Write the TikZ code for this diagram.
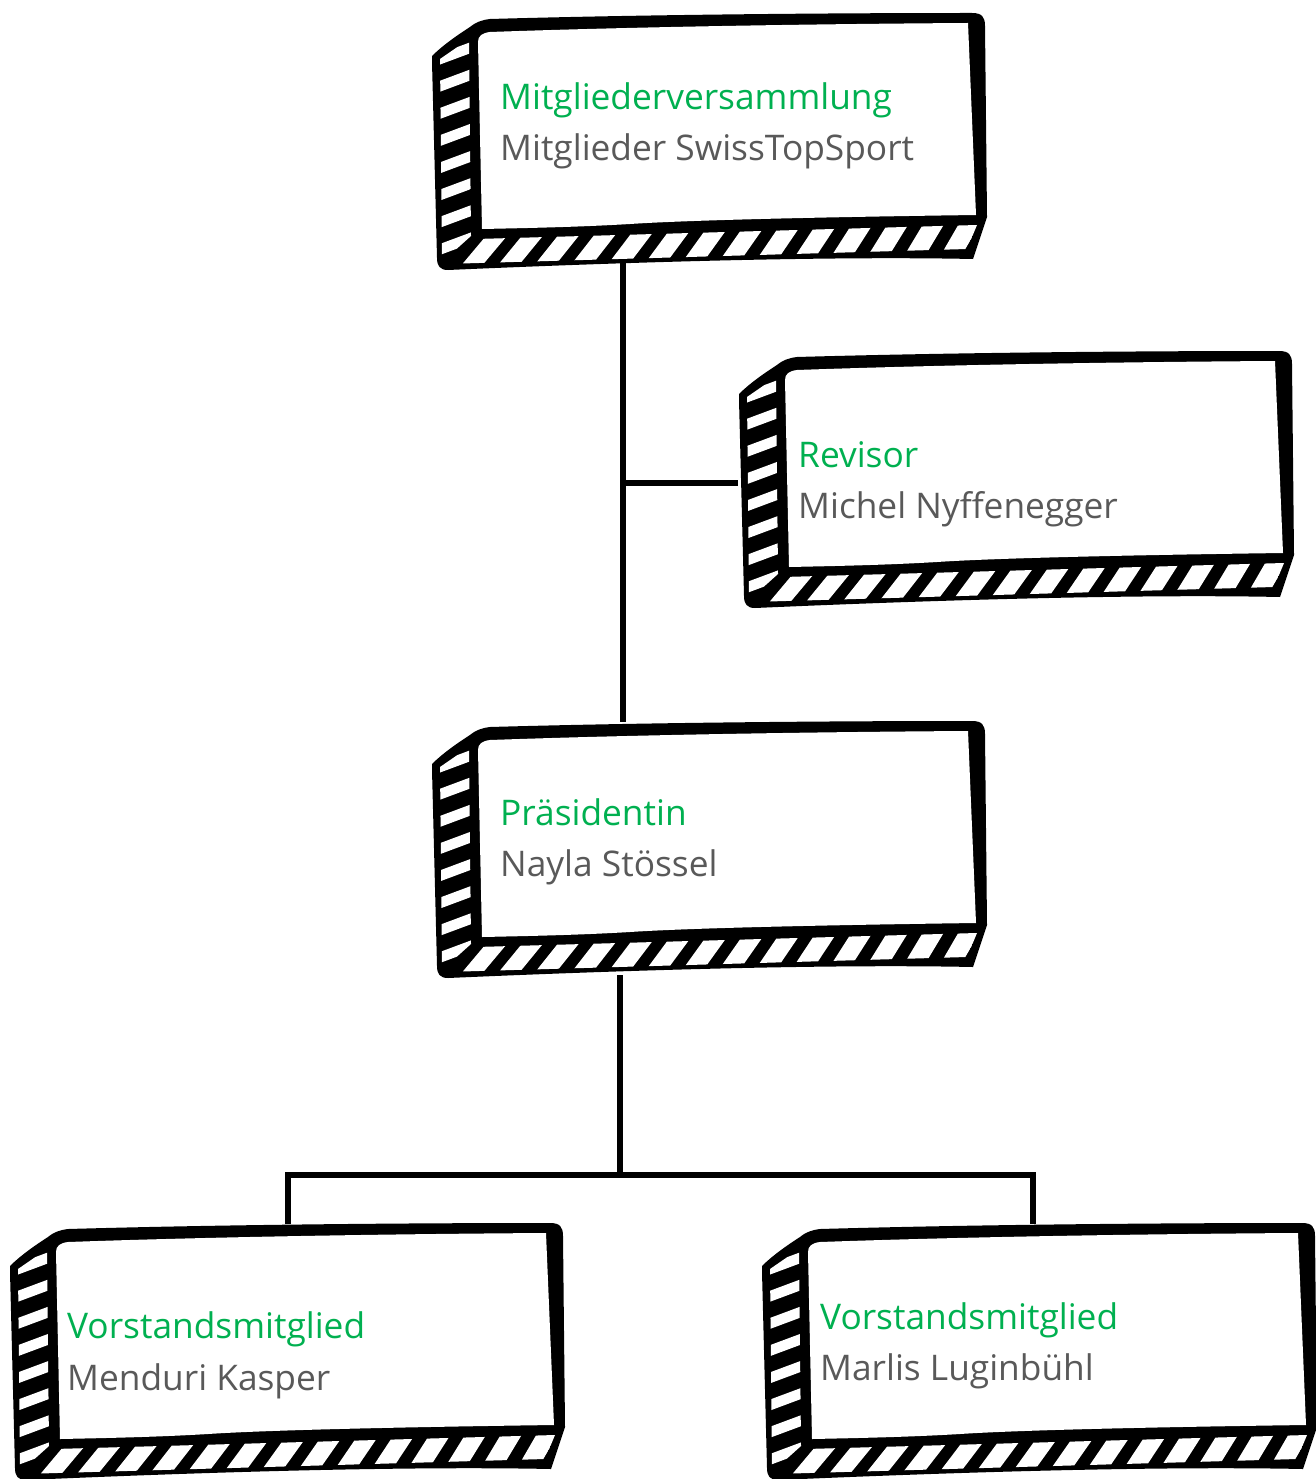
\documentclass[tikz,border=0pt]{standalone}
\usepackage{fontspec}
\setmainfont{Open Sans}
\definecolor{tgreen}{RGB}{0,176,80}
\definecolor{tgray}{RGB}{89,89,89}
\newcommand\sketchbox[2]{%
\begin{scope}[shift={(#1,#2)}]
 \fill[black] (2,44) .. controls (12,34) and (26,24) .. (40,15)
  .. controls (46,10) and (52,8) .. (60,7)
  .. controls (200,3) and (380,1) .. (542,1)
  .. controls (552,1) and (555,5) .. (555,14)
  -- (557,205) -- (543,247)
  .. controls (400,244) and (200,250) .. (18,258)
  .. controls (10,258) and (7,254) .. (7,246)
  -- (2,50) -- cycle;
 \fill[white] (48,30) .. controls (48,24) and (52,21) .. (60,20)
  .. controls (200,15) and (380,12) .. (538,11)
  -- (546,203)
  .. controls (400,205) and (260,208) .. (200,212)
  .. controls (150,215) and (100,216) .. (52,217)
  -- cycle;
 \begin{scope}
  \clip (10,47) -- (39,27) -- (41,224) -- (12,250) -- cycle;
  \foreach \i in {0,...,7}{
   \pgfmathsetmacro\c{42+\i*27.2}
   \fill[white] (5,{\c+1.4}) -- (45,{\c-13.5}) -- (45,{\c-2.5}) -- (5,{\c+12.4}) -- cycle;}
 \end{scope}
 \begin{scope}
  \clip (14,252) -- (46,227) -- (547,213) -- (537,237) -- cycle;
  \foreach \i in {0,...,14}{
   \pgfmathsetmacro\sl{42-\i*1}
   \pgfmathsetmacro\xx{24+\i*36.6}
   \fill[white] (\xx,262) -- ({\xx+21},262) -- ({\xx+21+\sl},212) -- ({\xx+\sl},212) -- cycle;}
 \end{scope}
\end{scope}}
\tikzset{
 role/.style={anchor=base west, text=tgreen, font=\fontsize{35.3}{42}\selectfont, inner sep=0pt},
 person/.style={anchor=base west, text=tgray, font=\fontsize{35.3}{42}\selectfont, inner sep=0pt},
 link/.style={line width=6pt, black}
}
\begin{document}
\begin{tikzpicture}[x=1pt,y=-1pt]
\useasboundingbox (0,0) rectangle (1315,1479);
\fill[white] (0,0) rectangle (1315,1479);
% boxes
\sketchbox{430}{12}
\sketchbox{737}{350}
\sketchbox{430}{720}
\sketchbox{8}{1222}
\sketchbox{760}{1222}
% texts
\node[role] (mvT) at (500,110) {Mitgliederversammlung};
\node[person] (mvP) at (500,161) {Mitglieder SwissTopSport};
\node[role] (rvT) at (798,467) {Revisor};
\node[person] (rvP) at (798,518) {Michel Nyffenegger};
\node[role] (prT) at (500,825) {Präsidentin};
\node[person] (prP) at (500,876) {Nayla Stössel};
\node[role] (v1T) at (67,1338) {Vorstandsmitglied};
\node[person] (v1P) at (67,1390) {Menduri Kasper};
\node[role] (v2T) at (820,1329) {Vorstandsmitglied};
\node[person] (v2P) at (820,1380) {Marlis Luginbühl};
% connection points
\coordinate (mvB) at (623,262);
\coordinate (prTop) at (623,722);
\coordinate (jR) at (623,483);
\coordinate (rvL) at (738,483);
\coordinate (prB) at (620,975);
\coordinate (jP) at (620,1175);
\coordinate (v1Top) at (288,1224);
\coordinate (v2Top) at (1033,1224);
\draw[link] (mvB) -- (prTop);
\draw[link] (jR) -- (rvL);
\draw[link] (prB) -- (jP);
\draw[link] (v1Top) |- (jP) -| (v2Top);
\end{tikzpicture}
\end{document}
